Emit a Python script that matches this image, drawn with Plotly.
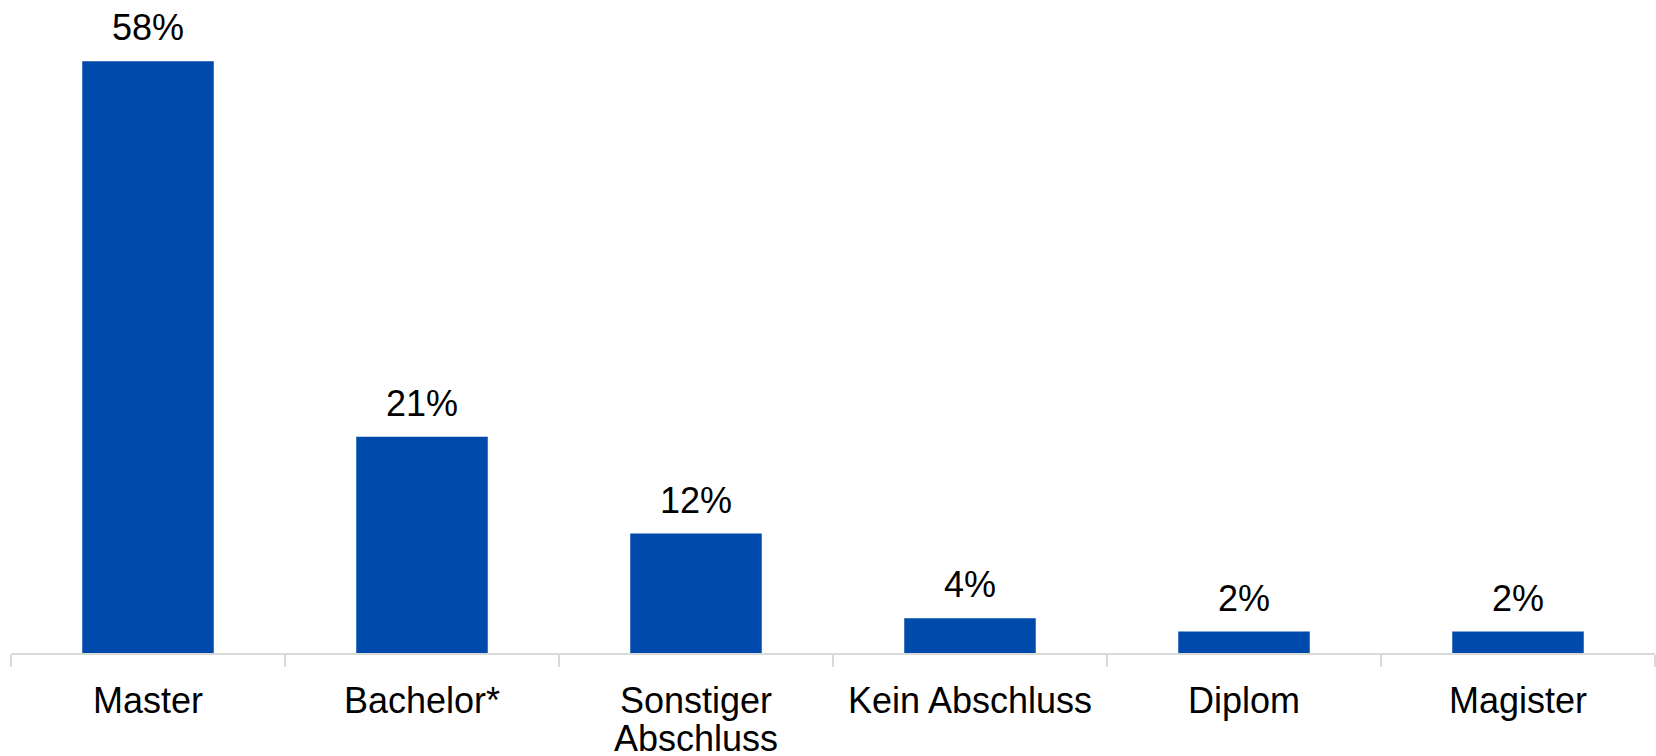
import plotly.graph_objects as go

categories = ["Master", "Bachelor*", "Sonstiger Abschluss", "Kein Abschluss", "Diplom", "Magister"]
tick_label_lines = [["Master"], ["Bachelor*"], ["Sonstiger", "Abschluss"], ["Kein Abschluss"], ["Diplom"], ["Magister"]]
values = [58, 21.2, 11.7, 3.4, 2.1, 2.1]
value_labels = ["58%", "21%", "12%", "4%", "2%", "2%"]

bar_color = "#004AAC"
font_family = "Liberation Sans, Arial, sans-serif"

fig = go.Figure()
fig.add_trace(go.Bar(
    x=categories,
    y=values,
    marker=dict(color=bar_color, line=dict(width=0)),
    width=0.48,
    hoverinfo="skip",
))

for cat, val, lab in zip(categories, values, value_labels):
    fig.add_annotation(
        x=cat, y=val, text=lab, showarrow=False,
        yanchor="bottom", yshift=11,
        font=dict(family=font_family, size=36, color="#000000"),
    )

# extra lines of wrapped tick labels, set closer than Plotly's default line spacing
for cat, lines in zip(categories, tick_label_lines):
    for i, line in enumerate(lines[1:], start=1):
        fig.add_annotation(
            x=cat, y=0, yref="paper", text=line, showarrow=False,
            yanchor="top", yshift=-63 - 41 * (i - 1),
            font=dict(family=font_family, size=36, color="#000000"),
        )

fig.update_layout(
    width=1656, height=756,
    margin=dict(l=11, r=1, t=0, b=103),
    plot_bgcolor="white", paper_bgcolor="white",
    showlegend=False,
    font=dict(family=font_family, size=36, color="#000000"),
    xaxis=dict(
        showline=True, linecolor="#d9d9d9", linewidth=2,
        ticks="outside", tickson="boundaries", ticklen=12, tickcolor="#d9d9d9", tickwidth=2,
        tickmode="array", tickvals=categories, ticktext=[l[0] for l in tick_label_lines],
        tickfont=dict(family=font_family, size=36, color="#000000"),
        ticklabelstandoff=15,
        showgrid=False, zeroline=False, automargin=False, fixedrange=True,
    ),
    yaxis=dict(
        range=[0, 64], visible=False, showgrid=False, zeroline=False, automargin=False,
        fixedrange=True,
    ),
)

fig.write_html(
    "out.html",
    config={"displayModeBar": False, "staticPlot": True},
    post_script="document.body.style.margin='0';document.body.style.overflow='hidden';",
)
